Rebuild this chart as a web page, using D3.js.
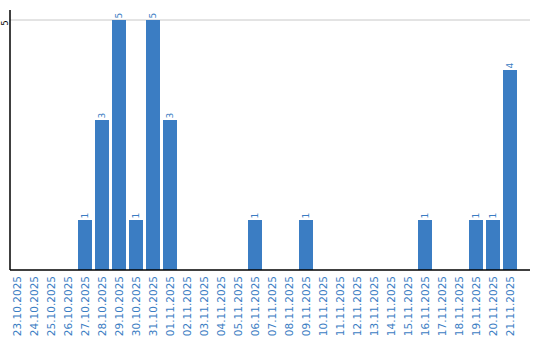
<!DOCTYPE html>
<html>
<head>
<meta charset="utf-8">
<script src="https://cdn.jsdelivr.net/npm/d3@7"></script>
<style>
    body { margin: 0; background: #fff; }
    text { font-family: "DejaVu Sans", Verdana, sans-serif; }
</style>
</head>
<body>
<div id="chart-area"></div>
<script>
var dates = ["23.10.2025", "24.10.2025", "25.10.2025", "26.10.2025", "27.10.2025",
    "28.10.2025", "29.10.2025", "30.10.2025", "31.10.2025", "01.11.2025",
    "02.11.2025", "03.11.2025", "04.11.2025", "05.11.2025", "06.11.2025",
    "07.11.2025", "08.11.2025", "09.11.2025", "10.11.2025", "11.11.2025",
    "12.11.2025", "13.11.2025", "14.11.2025", "15.11.2025", "16.11.2025",
    "17.11.2025", "18.11.2025", "19.11.2025", "20.11.2025", "21.11.2025"];
var counts = [0, 0, 0, 0, 1, 3, 5, 1, 5, 3, 0, 0, 0, 0, 1, 0, 0, 1, 0, 0,
    0, 0, 0, 0, 1, 0, 0, 1, 1, 4];
var yTicks = [5];

var width = 540;
var height = 340;
var blue = "#3b7dc3";

var svg = d3.select("#chart-area")
    .append("svg")
    .attr("width", width)
    .attr("height", height);

var x = d3.scaleBand()
    .domain(dates)
    .range([8.5, 518.5])
    .paddingInner(3 / 17)
    .paddingOuter(3 / 34);

var y = d3.scaleLinear()
    .domain([0, 5])
    .range([270, 20]);

// grid line
svg.selectAll("line.grid")
    .data(yTicks)
    .enter()
    .append("line")
    .attr("class", "grid")
    .attr("x1", 10)
    .attr("x2", 530)
    .attr("y1", function(d) { return y(d); })
    .attr("y2", function(d) { return y(d); })
    .attr("stroke", "#c8c8c8")
    .attr("stroke-width", 1);

svg.selectAll("text.ytick")
    .data(yTicks)
    .enter()
    .append("text")
    .attr("class", "ytick")
    .attr("transform", function(d) {
        return "translate(8," + (y(d) + 3) + ") rotate(-90)";
    })
    .attr("text-anchor", "middle")
    .attr("font-size", 8)
    .attr("fill", "#000")
    .text(function(d) { return d; });

var data = dates.map(function(d, i) {
    return { date: d, value: counts[i] };
});

svg.selectAll("rect")
    .data(data.filter(function(d) { return d.value > 0; }))
    .enter()
    .append("rect")
    .attr("x", function(d) { return x(d.date); })
    .attr("y", function(d) { return y(d.value); })
    .attr("width", x.bandwidth())
    .attr("height", function(d) { return y(0) - y(d.value); })
    .attr("fill", blue);

svg.selectAll("text.val")
    .data(data.filter(function(d) { return d.value > 0; }))
    .enter()
    .append("text")
    .attr("class", "val")
    .attr("transform", function(d) {
        return "translate(" + (x(d.date) + x.bandwidth() / 2 + 3) + "," + (y(d.value) - 1.5) + ") rotate(-90)";
    })
    .attr("text-anchor", "start")
    .attr("font-size", 9)
    .attr("fill", blue)
    .text(function(d) { return d.value; });

// axes lines
svg.append("line")
    .attr("x1", 10).attr("x2", 10)
    .attr("y1", 10).attr("y2", 270)
    .attr("stroke", "#000")
    .attr("stroke-width", 1.5);

svg.append("line")
    .attr("x1", 10).attr("x2", 530)
    .attr("y1", 270).attr("y2", 270)
    .attr("stroke", "#000")
    .attr("stroke-width", 1.5);

svg.selectAll("text.xtick")
    .data(dates)
    .enter()
    .append("text")
    .attr("class", "xtick")
    .attr("transform", function(d) {
        return "translate(" + (x(d) + x.bandwidth() / 2 + 3.5) + ",276) rotate(-90)";
    })
    .attr("text-anchor", "end")
    .attr("font-size", 10.5)
    .attr("fill", blue)
    .text(function(d) { return d; });
</script>
</body>
</html>
